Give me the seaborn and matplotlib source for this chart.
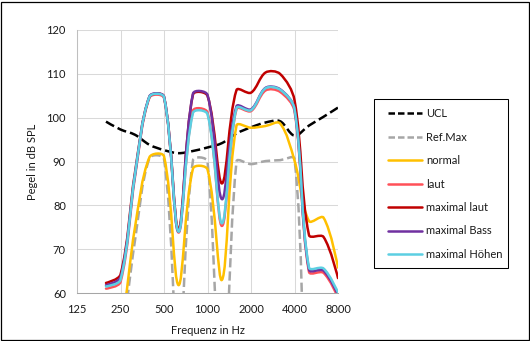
import numpy as np
import pandas as pd
import matplotlib
matplotlib.use("Agg")
import matplotlib.pyplot as plt
from matplotlib.path import Path
from matplotlib.patches import PathPatch, Rectangle
import seaborn as sns

# ---- data (1/3-octave bands, values in dB SPL) ----
axis_bands = ["125", "160", "200", "250", "315", "400", "500", "630", "800", "1000",
              "1250", "1600", "2000", "2500", "3150", "4000", "5000", "6300", "8000"]
tick_labels = ["125", "250", "500", "1000", "2000", "4000", "8000"]
freqs = ["200", "250", "315", "400", "500", "630", "800", "1000", "1250",
         "1600", "2000", "2500", "3150", "4000", "5000", "6300", "8000"]

ucl = [99.1, 97.3, 96.1, 93.8, 92.6, 91.9, 92.4, 93.2, 94.2,
       96.4, 97.8, 98.9, 99.2, 95.9, 98.2, 100.2, 102.3]
ref_max = [35.0, 48.0, 72.0, 90.8, 90.6, 46.0, 90.3, 90.0, 25.0,
           90.0, 89.4, 90.1, 90.3, 90.6, 30.0, 30.0, 30.0]
normal = [45.0, 52.0, 75.0, 91.0, 91.2, 61.8, 88.4, 88.2, 63.0,
          98.2, 97.7, 98.1, 98.7, 90.2, 76.4, 77.2, 65.8]
laut = [61.0, 62.5, 86.5, 104.6, 104.5, 73.8, 101.6, 101.2, 75.3,
        102.0, 101.5, 106.2, 105.9, 101.5, 64.8, 64.6, 59.0]
maximal_laut = [62.3, 64.2, 87.5, 104.8, 104.8, 74.5, 105.3, 105.0, 85.0,
                106.3, 105.7, 110.3, 110.0, 104.0, 73.2, 72.8, 63.4]
maximal_bass = [61.8, 63.6, 87.0, 104.9, 104.8, 74.0, 105.5, 105.2, 81.4,
                102.6, 101.9, 106.8, 106.5, 102.0, 65.3, 65.1, 59.6]
maximal_hoehen = [61.5, 63.0, 87.0, 104.8, 104.7, 74.0, 101.1, 100.8, 75.9,
                  102.2, 101.7, 106.7, 106.4, 102.0, 65.8, 65.6, 60.1]

series_names = ["UCL", "Ref.Max", "normal", "laut", "maximal laut", "maximal Bass", "maximal Höhen"]
series_values = [ucl, ref_max, normal, laut, maximal_laut, maximal_bass, maximal_hoehen]
series_colors = ["#000000", "#A6A6A6", "#FFC000", "#FF5058", "#C00000", "#7030A0", "#5CCFE2"]
series_dashed = [True, True, False, False, False, False, False]

# ---- style ----
sns.set_theme(style="whitegrid")
plt.rcParams["font.family"] = ["Lato", "DejaVu Sans"]
TXT = "#1a1a1a"

fig = plt.figure(figsize=(5.30, 3.41), dpi=100)
W, H = 530, 341
ax = fig.add_axes([77 / W, (H - 293) / H, (338 - 77) / W, (293 - 30) / H])
ax.set_facecolor("white")

x_pos = [axis_bands.index(f) for f in freqs]
lw = 1.8
dash = (0, (2.6, 1.2))

for name, vals, col, dashed in zip(series_names, series_values, series_colors, series_dashed):
    df = pd.DataFrame({"band": x_pos, "dB": vals})
    sns.lineplot(data=df, x="band", y="dB", ax=ax, color=col, linewidth=lw,
                 linestyle=dash if dashed else "-", label=name, legend=False,
                 solid_capstyle="round", dash_capstyle="butt")

lines = list(ax.get_lines())

# Axes
ax.set_xlim(0, 18)
ax.set_ylim(60, 120)
ax.set_xticks([axis_bands.index(t) for t in tick_labels])
ax.set_xticklabels(tick_labels)
ax.set_yticks(np.arange(60, 121, 10))
ax.grid(True, color="#D9D9D9", linewidth=0.75)
ax.set_axisbelow(True)
for s in ["top", "right"]:
    ax.spines[s].set_visible(False)
ax.spines["left"].set_color("#BFBFBF")
ax.spines["bottom"].set_color("#A6A6A6")
ax.spines["left"].set_linewidth(0.75)
ax.spines["bottom"].set_linewidth(0.75)
ax.tick_params(axis="both", length=0, labelsize=8, labelcolor=TXT)
ax.tick_params(axis="y", pad=8)
ax.tick_params(axis="x", pad=8)

ax.set_xlabel("Frequenz in Hz", fontsize=8, color=TXT)
ax.set_ylabel("Pegel in dB SPL", fontsize=8, color=TXT)
ax.xaxis.label.set_va("center")
ax.yaxis.label.set_va("center")
ax.xaxis.set_label_coords(0.5, (293 - 330) / 263)
ax.yaxis.set_label_coords((33 - 77) / 261, 0.5)

# Legend (framed box drawn separately)
fig.patches.append(Rectangle((373.5 / W, (H - 268.3) / H), 134 / W, 169 / H,
                             transform=fig.transFigure, fill=False,
                             edgecolor="black", linewidth=0.75))
fig.legend(lines, series_names, loc="center left",
           bbox_to_anchor=(388 / W, (H - 184) / H), frameon=False,
           borderaxespad=0, borderpad=0, fontsize=8,
           handlelength=3.05, handletextpad=0.4, labelspacing=1.12,
           labelcolor=TXT)

# Excel-style smoothed rendering of each series (Bezier through the series'
# own points, control points from chord lengths in screen space)
to_disp = ax.transData
to_data = ax.transData.inverted()
for i, ln in enumerate(lines):
    pts = to_disp.transform(ln.get_xydata())
    n = len(pts)
    tang = []
    for k in range(n):
        a = pts[k - 1] if k > 0 else pts[k]
        b = pts[k + 1] if k < n - 1 else pts[k]
        tang.append(b - a)
    def seglen(k):
        return np.hypot(*(pts[k + 1] - pts[k]))
    verts = [pts[0]]
    codes = [Path.MOVETO]
    for k in range(n - 1):
        d = seglen(k)
        dprev = seglen(k - 1) if k > 0 else d
        dnext = seglen(k + 1) if k + 1 < n - 1 else d
        f1 = d / (dprev + d) / 1.5 if k > 0 else 0.0
        f2 = d / (d + dnext) / 1.5 if k + 1 < n - 1 else 0.0
        c1 = pts[k] + tang[k] * f1 * 0.5
        c2 = pts[k + 1] - tang[k + 1] * f2 * 0.5
        verts += [c1, c2, pts[k + 1]]
        codes += [Path.CURVE4] * 3
    verts = to_data.transform(np.array(verts))
    patch = PathPatch(Path(verts, codes), fill=False, edgecolor=ln.get_color(),
                      linewidth=lw, linestyle=ln.get_linestyle(),
                      capstyle="butt" if series_dashed[i] else "round",
                      joinstyle="round", zorder=2 + i)
    ax.add_patch(patch)
    ln.set_visible(False)

ax.set_xlim(0, 18)
ax.set_ylim(60, 120)

# chart border
fig.patches.append(Rectangle((1 / W, 1 / H), (W - 2.5) / W, (H - 2.5) / H,
                             transform=fig.transFigure, fill=False,
                             edgecolor="black", linewidth=0.9))

fig.savefig("out.png", dpi=100, facecolor="white")
